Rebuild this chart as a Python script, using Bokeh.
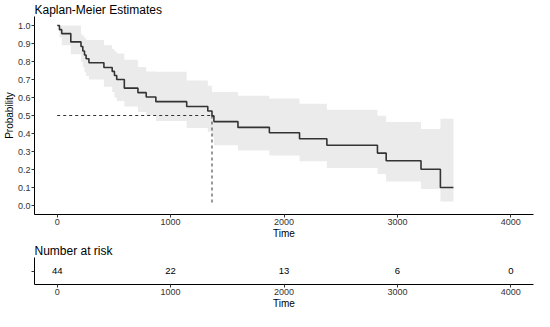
from bokeh.plotting import figure
from bokeh.layouts import column
from bokeh.models import FixedTicker, Range1d, NumeralTickFormatter
from bokeh.embed import file_html
from bokeh.resources import INLINE

# ---- data ----
time = [0, 20, 40, 120, 210, 226, 241, 255, 280, 412, 485, 505, 525, 592, 712,
        785, 870, 1142, 1328, 1365, 1382, 1594, 1871, 2137, 2378, 2824, 2901,
        3208, 3379, 3494]
surv = [1.000, 0.977, 0.955, 0.909, 0.883, 0.858, 0.836, 0.815, 0.793, 0.767,
        0.745, 0.722, 0.700, 0.652, 0.627, 0.603, 0.577, 0.550, 0.525, 0.498,
        0.466, 0.434, 0.404, 0.371, 0.335, 0.291, 0.249, 0.201, 0.100, 0.100]
lower = [1.000, 0.935, 0.890, 0.840, 0.800, 0.770, 0.740, 0.720, 0.700, 0.660,
         0.630, 0.600, 0.580, 0.550, 0.520, 0.500, 0.470, 0.430, 0.410, 0.380,
         0.335, 0.305, 0.278, 0.246, 0.208, 0.175, 0.134, 0.091, 0.022, 0.022]
upper = [1.000, 1.000, 1.000, 1.000, 0.950, 0.940, 0.930, 0.920, 0.920, 0.890,
         0.870, 0.855, 0.845, 0.810, 0.770, 0.745, 0.743, 0.695, 0.665, 0.630,
         0.630, 0.610, 0.594, 0.565, 0.532, 0.498, 0.464, 0.425, 0.482, 0.482]

median_time = 1365
median_surv = 0.5

x_ticks = [0, 1000, 2000, 3000, 4000]
y_ticks = [0.0, 0.1, 0.2, 0.3, 0.4, 0.5, 0.6, 0.7, 0.8, 0.9, 1.0]

risk_times = [0, 1000, 2000, 3000, 4000]
risk_n = [44, 22, 13, 6, 0]

FONT = "Liberation Sans"
W = 534
LEFT = 25


def style_axes(fig):
    fig.xgrid.visible = False
    fig.ygrid.visible = False
    fig.outline_line_color = None
    for ax in (fig.xaxis[0], fig.yaxis[0]):
        ax.axis_line_color = "black"
        ax.axis_line_width = 1
        ax.major_tick_line_color = "#333333"
        ax.major_tick_out = 3
        ax.major_tick_in = 0
        ax.minor_tick_line_color = None
        ax.major_label_text_font = FONT
        ax.major_label_text_font_size = "9px"
        ax.major_label_text_color = "#333333"
        ax.major_label_standoff = 1
        ax.axis_label_text_font = FONT
        ax.axis_label_text_font_size = "10px"
        ax.axis_label_text_font_style = "normal"
        ax.axis_label_text_color = "black"
        ax.axis_label_standoff = 0
    fig.title.text_font = FONT
    fig.title.text_font_size = "12px"
    fig.title.text_font_style = "normal"
    fig.title.text_color = "black"
    fig.title.standoff = 0


p = figure(width=W, height=241, x_range=Range1d(-200, 4200),
           y_range=Range1d(-0.05, 1.05), output_backend="svg",
           toolbar_location=None, title="Kaplan-Meier Estimates",
           min_border_left=LEFT, min_border_right=1, min_border_top=0,
           min_border_bottom=0)
style_axes(p)
p.xaxis.axis_label = "Time"
p.yaxis.axis_label = "Probability"
p.xaxis.ticker = FixedTicker(ticks=x_ticks)
p.yaxis.ticker = FixedTicker(ticks=y_ticks)
p.yaxis.formatter = NumeralTickFormatter(format="0.0")

p.varea_step(x=time, y1=lower, y2=upper, step_mode="after",
             fill_color="#ebebeb", fill_alpha=1.0)
p.step(x=time, y=surv, mode="after", line_color="#333333", line_width=1.6)
p.segment(x0=[0, median_time], y0=[median_surv, median_surv],
          x1=[median_time, median_time], y1=[median_surv, 0],
          line_color="#333333", line_width=1, line_dash="3 3")

r = figure(width=W, height=70, x_range=Range1d(-200, 4200),
           y_range=Range1d(0, 1), output_backend="svg",
           toolbar_location=None, title="Number at risk",
           min_border_left=LEFT, min_border_right=1, min_border_top=0,
           min_border_bottom=0)
style_axes(r)
r.xaxis.axis_label = "Time"
r.xaxis.ticker = FixedTicker(ticks=x_ticks)
r.yaxis.ticker = FixedTicker(ticks=[0.5])
r.yaxis.major_label_overrides = {0.5: ""}
r.text(x=risk_times, y=[0.5] * len(risk_times), text=[str(n) for n in risk_n],
       text_align="center", text_baseline="middle", text_font_size="9.5px",
       text_color="black", text_font={"value": FONT})

layout = column(p, r, spacing=0)
open("out.html", "w").write(file_html(layout, INLINE))
